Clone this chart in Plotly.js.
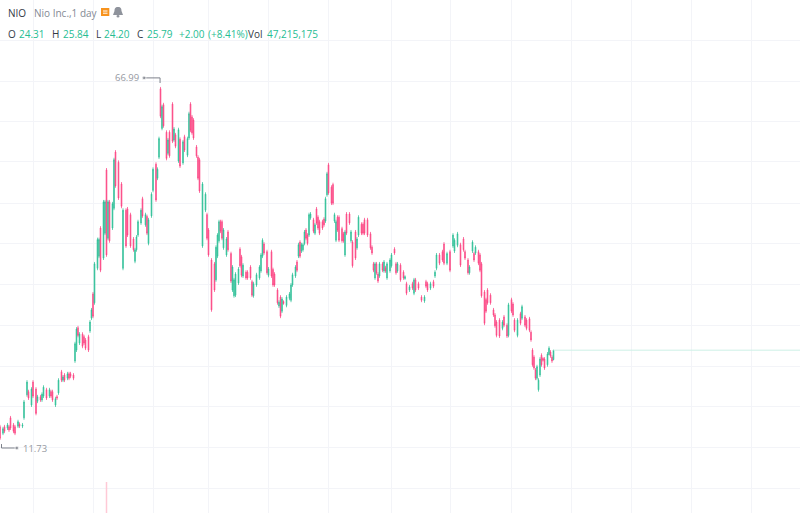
<!DOCTYPE html>
<html><head><meta charset="utf-8">
<script src="https://cdn.plot.ly/plotly-3.0.1.min.js"></script>
<style>html,body{margin:0;padding:0;background:#fff;overflow:hidden}#c{width:800px;height:513px}</style>
</head><body><div id="c"></div>
<script>
const sessions=[0,2,3,5,6,7,9,10,12,13,
15,16,18,19,21,22,24,25,27,28,
29,31,33,34,35,37,38,39,41,42,
43,45,46,47,49,50,51,52,53,55,
56,57,59,60,61,62,63,65,66,67,
69,70,71,72,73,75,76,77,79,81,
82,84,85,87,89,90,91,92,94,95,
97,98,99,101,102,104,105,106,107,108,
109,111,112,113,115,116,117,119,120,122,
123,125,126,127,128,129,131,132,133,135,
137,138,139,141,143,144,145,146,147,148,
149,151,152,154,155,156,157,159,160,161,
162,164,165,167,168,169,171,173,174,175,
176,178,179,181,182,183,185,186,187,188,
189,191,193,194,195,197,198,199,200,201,
202,203,204,205,206,207,209,210,211,212,
213,215,216,217,218,219,221,222,223,224,
225,226,228,229,230,231,233,234,235,237,
238,239,241,242,243,245,247,248,249,250,
251,252,253,255,256,257,258,260,261,263,
264,265,267,269,270,271,273,275,276,277,
279,281,283,284,285,287,289,290,291,293,
295,296,298,300,302,303,305,307,309,310,
312,313,315,316,317,319,320,321,323,324,
325,327,329,330,331,333,335,336,338,339,
341,342,343,345,347,348,350,351,353,354,
355,356,357,358,359,360,361,362,363,365,
366,367,368,369];
const highs=[14.1,13.8,14.1,14.4,14.1,15.5,14.4,14.1,14.9,14.5,
14.4,18.0,21.1,19.6,20.0,21.1,20.0,18.8,18.8,19.2,
20.3,19.9,19.9,19.6,19.6,18.5,18.8,21.4,22.7,21.9,
22.2,22.4,22.4,22.4,22.2,27.1,29.4,29.6,28.6,28.6,
28.2,27.7,28.2,30.5,32.4,34.9,39.6,43.4,43.4,45.2,
49.3,49.3,54.3,49.3,49.3,49.0,55.9,57.1,55.5,52.1,
48.0,48.0,48.2,47.3,43.5,41.8,43.8,46.2,48.0,49.8,
47.3,47.0,46.5,50.5,54.4,55.2,54.4,59.2,66.99,64.2,
64.5,60.2,59.0,60.2,64.6,60.7,59.8,60.6,59.1,58.7,
59.5,59.2,63.1,64.6,62.6,62.1,57.9,56.3,55.9,52.1,
50.5,47.3,44.9,40.2,39.6,42.2,44.1,46.2,46.2,46.2,
44.9,43.5,44.6,41.2,39.1,37.1,38.0,38.8,41.9,40.7,
39.4,38.3,38.3,39.1,36.8,36.5,37.9,39.1,41.0,43.3,
42.7,41.5,38.8,41.5,38.7,38.0,35.5,33.6,34.4,34.1,
33.6,34.4,34.9,36.3,37.9,39.1,39.9,42.6,43.0,42.6,
42.6,44.6,44.9,44.1,47.3,47.4,46.5,45.7,48.2,46.9,
46.2,46.2,46.6,49.8,53.7,55.1,51.6,52.0,47.3,46.2,
46.9,46.9,45.1,44.3,44.6,47.4,47.4,44.6,43.0,44.6,
43.5,46.9,45.8,45.8,46.5,46.5,44.3,42.2,39.6,39.6,
39.6,38.0,39.6,39.6,39.9,39.0,39.6,40.2,41.0,41.9,
39.6,39.6,39.4,38.3,37.5,36.5,36.0,36.5,37.1,37.1,
36.5,34.4,34.4,36.8,36.5,36.5,36.8,38.3,41.0,41.0,
41.5,42.7,41.2,41.5,44.1,43.3,44.3,42.6,43.5,41.5,
40.2,39.1,43.0,41.2,42.2,41.5,41.0,39.6,35.2,34.0,
35.5,34.7,32.4,31.6,30.5,30.8,30.5,31.3,30.0,33.2,
34.0,33.3,30.8,30.8,31.8,32.9,31.3,30.8,31.0,28.9,
26.1,25.0,23.0,23.5,21.4,24.7,25.3,24.7,24.7,25.5,
26.4,25.8,25.0,25.84];
const lows=[11.73,12.5,12.8,13.3,13.0,13.3,12.8,12.5,13.6,13.6,
13.6,14.9,18.5,18.0,16.9,18.3,15.6,17.5,17.7,17.7,
18.3,18.0,18.3,18.3,17.7,16.9,18.0,18.8,20.8,20.8,
20.8,21.1,21.1,21.4,21.1,23.8,25.5,27.8,26.6,26.1,
26.6,25.8,25.5,28.5,30.5,30.8,32.9,38.3,40.2,38.0,
39.9,43.8,40.4,43.0,42.6,44.6,47.7,51.2,49.3,48.0,
38.3,41.8,43.5,41.8,41.2,39.4,41.2,43.5,45.4,46.5,
45.1,43.8,42.2,46.5,50.5,49.0,52.4,55.7,62.1,60.2,
60.6,55.5,56.3,55.9,58.2,58.4,57.4,55.1,54.3,54.8,
56.8,56.0,58.7,59.9,59.5,58.7,55.9,52.4,50.4,41.8,
47.4,43.0,40.4,31.8,34.9,36.5,40.2,42.6,44.1,43.0,
41.5,40.4,41.2,36.3,34.9,34.0,34.1,36.0,38.7,37.2,
37.1,36.8,36.8,36.8,34.1,34.0,35.7,36.8,37.9,40.2,
40.7,37.6,37.2,37.1,35.7,35.7,32.9,32.4,30.8,31.6,
32.9,32.5,33.6,33.3,35.7,37.1,38.0,40.2,40.2,41.0,
41.2,42.2,43.0,42.2,43.5,46.2,44.1,43.8,45.4,44.6,
43.8,44.6,45.1,45.7,49.8,50.1,48.5,48.5,45.7,42.7,
44.3,42.7,42.6,42.6,40.4,43.8,45.4,42.6,38.7,39.9,
41.5,43.5,43.8,43.8,43.8,43.5,41.5,40.7,38.0,36.8,
37.6,36.3,37.1,38.0,37.9,37.9,36.8,37.9,38.7,40.7,
37.6,37.9,36.5,36.8,36.8,34.4,34.9,35.2,34.4,34.9,
35.2,33.3,33.2,35.5,34.9,35.2,35.5,37.1,38.3,39.1,
39.6,39.1,39.1,38.0,41.8,41.0,41.9,38.8,41.2,39.9,
37.6,37.6,41.0,39.6,40.7,39.1,38.0,34.0,29.7,31.6,
32.9,32.9,31.0,29.3,27.8,27.7,28.9,29.4,27.7,27.8,
31.6,31.0,28.6,27.8,29.7,30.5,29.4,28.9,28.6,27.1,
23.2,22.7,21.1,21.1,19.3,21.6,23.2,24.0,22.7,23.2,
25.0,24.6,23.8,24.20];
const opens=[13.8,12.8,13.8,13.6,13.8,15.2,14.1,13.8,13.9,14.2,
13.9,15.2,18.8,19.3,17.2,20.8,19.7,17.8,18.5,18.0,
18.6,19.6,18.6,19.3,19.3,17.2,18.5,19.1,22.4,21.1,
21.9,21.4,22.1,22.1,21.9,24.1,25.8,29.3,26.9,28.3,
27.9,27.4,27.9,28.8,30.8,34.6,33.2,38.6,40.5,44.9,
40.2,44.1,54.0,43.3,49.0,44.9,48.0,56.8,55.2,51.8,
38.6,47.7,47.9,47.0,43.2,39.7,41.5,43.8,45.7,49.5,
45.4,46.7,42.5,46.8,50.8,54.9,52.7,56.0,66.7,60.5,
64.2,59.9,56.6,59.9,64.3,58.7,59.5,55.4,58.8,55.1,
59.2,56.3,59.0,64.3,62.3,61.8,57.6,56.0,55.6,42.1,
47.7,47.0,44.6,39.9,39.3,36.8,40.5,42.9,45.9,45.9,
41.8,40.7,44.3,40.9,35.2,34.3,34.4,36.3,41.6,40.4,
37.4,38.0,38.0,38.8,36.5,34.3,36.0,37.1,38.2,40.5,
42.4,41.2,37.5,41.2,38.4,37.7,35.2,32.7,34.1,31.9,
33.4,32.8,33.9,33.6,36.0,37.4,39.6,40.5,42.7,41.3,
41.5,42.5,44.6,43.8,43.8,46.5,46.2,44.1,47.9,46.6,
45.9,45.9,46.3,46.0,50.1,54.8,51.3,51.7,46.0,43.0,
46.6,46.6,44.8,44.0,40.7,47.1,47.1,42.9,42.7,44.3,
41.8,43.8,45.5,45.5,46.2,46.2,44.0,41.9,39.3,37.1,
39.3,37.7,37.4,39.3,38.2,38.7,37.1,38.2,39.0,41.6,
39.3,38.2,39.1,38.0,37.0,36.2,35.2,36.2,34.7,36.8,
36.2,34.1,33.5,36.5,36.2,35.5,36.5,37.4,38.6,40.7,
41.2,42.4,39.4,41.2,42.1,41.3,42.2,42.3,43.2,41.2,
39.9,37.9,41.3,40.9,41.0,41.2,40.7,39.3,34.9,33.7,
35.2,34.4,32.1,31.3,30.2,30.5,29.2,31.0,29.7,28.1,
33.7,33.0,30.5,28.1,31.5,30.8,31.0,30.5,30.7,28.6,
25.8,24.7,22.7,21.4,19.6,21.9,25.0,24.5,24.4,23.5,
25.1,25.5,24.7,24.31];
const closes=[12.0,13.5,13.1,14.1,13.3,13.6,13.1,12.8,14.6,13.9,
14.1,17.7,20.8,18.3,19.7,18.6,15.9,18.5,18.0,18.9,
20.0,18.3,19.6,18.6,18.0,18.2,18.3,21.1,21.1,21.6,
21.1,22.1,21.4,21.7,21.4,26.8,29.1,28.1,28.3,26.4,
26.9,26.1,25.8,30.2,32.1,31.1,39.3,43.1,43.1,38.3,
49.0,49.0,40.7,49.0,42.9,48.7,55.6,51.5,49.6,48.3,
47.7,42.1,43.8,42.1,41.5,41.5,43.5,45.9,47.7,46.8,
47.0,44.1,46.2,50.2,54.1,49.3,54.1,58.9,62.4,63.9,
60.9,55.8,58.7,56.2,58.5,60.4,57.7,60.3,54.6,58.4,
57.1,58.9,62.8,60.2,59.8,59.0,56.2,52.7,50.7,51.8,
50.2,43.3,40.7,32.1,35.2,41.9,43.8,45.9,44.4,43.3,
44.6,43.2,41.5,36.6,38.8,36.8,37.7,38.5,39.0,37.5,
39.1,37.1,37.1,37.1,34.4,36.2,37.6,38.8,40.7,43.0,
41.0,37.9,38.5,37.4,36.0,36.0,33.2,33.3,31.1,33.8,
33.1,34.1,34.6,36.0,37.6,38.8,38.3,42.3,40.5,42.3,
42.3,44.3,43.3,42.5,47.0,47.1,44.4,45.4,45.7,44.9,
44.1,44.9,45.4,49.5,53.4,50.4,48.8,48.8,47.0,45.9,
44.6,43.0,42.9,42.9,44.3,44.1,45.7,44.3,39.0,40.2,
43.2,46.6,44.1,44.1,44.1,43.8,41.8,41.0,38.3,39.3,
37.9,36.6,39.3,38.3,39.6,38.2,39.3,39.9,40.7,41.0,
37.9,39.3,36.8,37.1,37.3,34.7,35.7,35.5,36.8,35.2,
35.5,33.6,34.1,35.8,35.2,36.2,35.8,38.0,40.7,39.4,
39.9,39.4,40.9,38.3,43.8,43.0,44.0,39.1,41.5,40.2,
37.9,38.8,42.7,39.9,41.9,39.4,38.3,34.3,30.0,31.9,
33.2,33.2,31.3,29.6,28.1,28.0,30.2,29.7,28.0,32.9,
31.9,31.3,28.9,30.5,30.0,32.6,29.7,29.2,28.9,27.4,
23.5,23.0,21.4,23.2,21.1,24.4,23.5,24.2,23.0,25.2,
26.1,24.9,24.1,25.79];
const volumeSessions=[71];
const volumes=[150000000];
const priceGrid=[4.22,10.63,16.9,23.31,29.73,36.14,42.56,48.82,55.24,61.65,67.9,74.33];
const sessionGrid=[22,62,102,139,179,219,261,300,341,381,421,461,501];
const headerOHLC=[["O","24.31",8,19.3],["H","25.84",52,63.3],["L","24.20",96,104.3],["C","25.79",136.7,147.3]];

const UP="rgba(38,189,147,0.88)",DOWN="rgba(251,61,126,0.88)",TXTUP="#26bd93",GRID="#f3f4f8",GREY="#9598a1";
const W=800,H=513;
const fx=v=>v/W, fy=v=>1-v/H;
const note=(t,x,y,c)=>({xref:"paper",yref:"paper",x:fx(x),y:fy(y),xanchor:"left",yanchor:"middle",borderpad:0,borderwidth:0,
  text:t,showarrow:false,font:{family:"Open Sans",size:10,color:c}});

const annotations=[
 note("NIO",8.3,12.5,"#333a45"),
 note("Nio Inc.,1 day",34,12.5,"#848a94"),
 note("+2.00",179.3,34,TXTUP),
 note("(+8.41%)",208.3,34,TXTUP),
 note("Vol",248.3,34,"#333a45"),
 note("47,215,175",266.7,34,TXTUP),
 {x:92.5,y:68.4,xref:"x",yref:"y",xanchor:"right",yanchor:"middle",borderpad:0,borderwidth:0,text:"66.99",showarrow:false,font:{family:"Open Sans",size:9.5,color:GREY}},
 {x:15,y:10.48,xref:"x",yref:"y",xanchor:"left",yanchor:"middle",borderpad:0,borderwidth:0,text:"11.73",showarrow:false,font:{family:"Open Sans",size:9.5,color:GREY}}
];
headerOHLC.forEach(r=>{annotations.push(note(r[0],r[2],34,"#333a45"));annotations.push(note(r[1],r[3],34,TXTUP));});

const bell=`M ${fx(118)} ${fy(7)} C ${fx(121)} ${fy(7)} ${fx(121.5)} ${fy(9)} ${fx(121.5)} ${fy(11)} L ${fx(123)} ${fy(15)} L ${fx(113)} ${fy(15)} L ${fx(114.5)} ${fy(11)} C ${fx(114.5)} ${fy(9)} ${fx(115)} ${fy(7)} ${fx(118)} ${fy(7)} Z`;
const shapes=[
 {type:"rect",xref:"paper",yref:"paper",x0:fx(4),x1:fx(318),y0:fy(40),y1:fy(27),fillcolor:"#fff",line:{width:0},layer:"between"},
 {type:"rect",xref:"paper",yref:"paper",x0:fx(101),x1:fx(109.3),y0:fy(16),y1:fy(8),fillcolor:"#f7931e",line:{width:0}},
 {type:"line",xref:"paper",yref:"paper",x0:fx(103),x1:fx(107.5),y0:fy(11),y1:fy(11),line:{color:"#fff",width:1}},
 {type:"line",xref:"paper",yref:"paper",x0:fx(103),x1:fx(107.5),y0:fy(13.2),y1:fy(13.2),line:{color:"#fff",width:1}},
 {type:"path",xref:"paper",yref:"paper",path:bell,fillcolor:"#8f939c",line:{width:0}},
 {type:"circle",xref:"paper",yref:"paper",x0:fx(116.5),x1:fx(119.5),y0:fy(17.5),y1:fy(15),fillcolor:"#8f939c",line:{width:0}}
];

const data=[
 {type:"bar",x:volumeSessions,y:volumes,yaxis:"y2",width:1,marker:{color:"#ffc9d6",line:{width:0}},hoverinfo:"skip"},
 {type:"scatter",mode:"lines",x:[369,534],y:[25.79,25.79],line:{color:"#cdf0e6",width:1},hoverinfo:"skip"},
 {type:"candlestick",x:sessions,open:opens,high:highs,low:lows,close:closes,whiskerwidth:0,
  increasing:{line:{color:UP,width:0.8},fillcolor:UP},decreasing:{line:{color:DOWN,width:0.8},fillcolor:DOWN},hoverinfo:"skip"},
 {type:"scatter",mode:"lines+markers",x:[96,106.7,106.7],y:[68.4,68.4,67.6],line:{color:"#7d818a",width:1},marker:{size:[4,0,0],color:"#7d818a"},hoverinfo:"skip"},
 {type:"scatter",mode:"lines+markers",x:[1,1,11.3],y:[11.1,10.48,10.48],line:{color:"#7d818a",width:1},marker:{size:[0,0,4],color:"#7d818a"},hoverinfo:"skip"}
];
const layout={
 width:W,height:H,margin:{l:0,r:0,t:0,b:0},paper_bgcolor:"#fff",plot_bgcolor:"#fff",showlegend:false,
 xaxis:{type:"linear",range:[0,533.33],rangeslider:{visible:false},tickmode:"array",tickvals:sessionGrid,showticklabels:false,ticks:"",gridcolor:GRID,gridwidth:1,zeroline:false,showline:false,fixedrange:true},
 yaxis:{range:[0.31,80.59],tickmode:"array",tickvals:priceGrid,showticklabels:false,ticks:"",gridcolor:GRID,gridwidth:1,zeroline:false,showline:false,fixedrange:true},
 yaxis2:{overlaying:"y",range:[0,2482000000],visible:false,fixedrange:true},
 annotations,shapes
};
layout.xaxis.tickvals=sessionGrid.concat([541,581,621,661].map(v=>v/1.0)).filter(v=>v<=533).concat([381,421,461,501]);
layout.xaxis.tickvals=[22,62,102,139,179,219,261,300,341,381,421,461,501];
Plotly.newPlot("c",data,layout,{displayModeBar:false,staticPlot:true});
</script></body></html>
